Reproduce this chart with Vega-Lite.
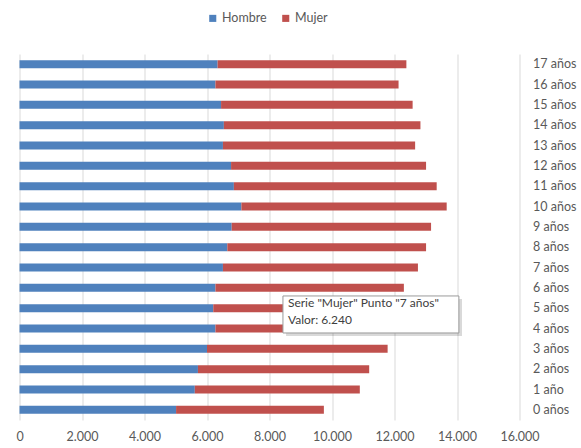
{
  "$schema": "https://vega.github.io/schema/vega-lite/v6.json",
  "width": 500,
  "height": 366,
  "autosize": {"type": "none"},
  "padding": {"left": 19.5, "top": 54, "right": 61.5, "bottom": 28},
  "background": "white",
  "config": {
    "view": {"stroke": null},
    "font": "Lato",
    "axis": {"labelColor": "#595959", "labelFontSize": 12.5, "labelFont": "Lato", "labelFlush": false},
    "legend": {"labelColor": "#595959", "labelFontSize": 12.5, "labelFont": "Lato"}
  },
  "resolve": {"scale": {"y": "independent"}},
  "layer": [
    {
      "data": {
        "values": [
          {"edad": 17, "etiqueta": "17 años", "sexo": "Hombre", "valor": 6340}, {"edad": 17, "etiqueta": "17 años", "sexo": "Mujer", "valor": 6040},
          {"edad": 16, "etiqueta": "16 años", "sexo": "Hombre", "valor": 6270}, {"edad": 16, "etiqueta": "16 años", "sexo": "Mujer", "valor": 5860},
          {"edad": 15, "etiqueta": "15 años", "sexo": "Hombre", "valor": 6450}, {"edad": 15, "etiqueta": "15 años", "sexo": "Mujer", "valor": 6130},
          {"edad": 14, "etiqueta": "14 años", "sexo": "Hombre", "valor": 6540}, {"edad": 14, "etiqueta": "14 años", "sexo": "Mujer", "valor": 6290},
          {"edad": 13, "etiqueta": "13 años", "sexo": "Hombre", "valor": 6510}, {"edad": 13, "etiqueta": "13 años", "sexo": "Mujer", "valor": 6150},
          {"edad": 12, "etiqueta": "12 años", "sexo": "Hombre", "valor": 6770}, {"edad": 12, "etiqueta": "12 años", "sexo": "Mujer", "valor": 6240},
          {"edad": 11, "etiqueta": "11 años", "sexo": "Hombre", "valor": 6860}, {"edad": 11, "etiqueta": "11 años", "sexo": "Mujer", "valor": 6490},
          {"edad": 10, "etiqueta": "10 años", "sexo": "Hombre", "valor": 7100}, {"edad": 10, "etiqueta": "10 años", "sexo": "Mujer", "valor": 6570},
          {"edad": 9, "etiqueta": "9 años", "sexo": "Hombre", "valor": 6790}, {"edad": 9, "etiqueta": "9 años", "sexo": "Mujer", "valor": 6380},
          {"edad": 8, "etiqueta": "8 años", "sexo": "Hombre", "valor": 6650}, {"edad": 8, "etiqueta": "8 años", "sexo": "Mujer", "valor": 6360},
          {"edad": 7, "etiqueta": "7 años", "sexo": "Hombre", "valor": 6510}, {"edad": 7, "etiqueta": "7 años", "sexo": "Mujer", "valor": 6240},
          {"edad": 6, "etiqueta": "6 años", "sexo": "Hombre", "valor": 6270}, {"edad": 6, "etiqueta": "6 años", "sexo": "Mujer", "valor": 6030},
          {"edad": 5, "etiqueta": "5 años", "sexo": "Hombre", "valor": 6200}, {"edad": 5, "etiqueta": "5 años", "sexo": "Mujer", "valor": 5900},
          {"edad": 4, "etiqueta": "4 años", "sexo": "Hombre", "valor": 6270}, {"edad": 4, "etiqueta": "4 años", "sexo": "Mujer", "valor": 5800},
          {"edad": 3, "etiqueta": "3 años", "sexo": "Hombre", "valor": 6000}, {"edad": 3, "etiqueta": "3 años", "sexo": "Mujer", "valor": 5780},
          {"edad": 2, "etiqueta": "2 años", "sexo": "Hombre", "valor": 5710}, {"edad": 2, "etiqueta": "2 años", "sexo": "Mujer", "valor": 5480},
          {"edad": 1, "etiqueta": "1 año", "sexo": "Hombre", "valor": 5610}, {"edad": 1, "etiqueta": "1 año", "sexo": "Mujer", "valor": 5280},
          {"edad": 0, "etiqueta": "0 años", "sexo": "Hombre", "valor": 5010}, {"edad": 0, "etiqueta": "0 años", "sexo": "Mujer", "valor": 4730}
        ]
      },
      "mark": {"type": "bar", "size": 8},
      "encoding": {
        "x": {
          "field": "valor", "type": "quantitative", "stack": "zero",
          "scale": {"domain": [0, 16000], "nice": false, "padding": 0},
          "axis": {
            "title": null, "values": [0, 2000, 4000, 6000, 8000, 10000, 12000, 14000, 16000],
            "labelExpr": "replace(format(datum.value, ','), ',', '.')",
            "domain": false, "ticks": false, "grid": true, "gridColor": "#d9d9d9", "labelPadding": 10,
            "labelFlush": false
          }
        },
        "y": {
          "field": "etiqueta", "type": "nominal",
          "sort": {"field": "edad", "order": "descending"},
          "scale": {"paddingInner": 0, "paddingOuter": 0},
          "axis": {
            "title": null, "orient": "right",
            "domain": false, "ticks": false, "grid": false, "labelPadding": 13, "labelAlign": "left",
            "labelOverlap": false, "labelBaseline": "middle"
          }
        },
        "color": {
          "field": "sexo", "type": "nominal",
          "scale": {"domain": ["Hombre", "Mujer"], "range": ["#4F81BD", "#C0504D"]},
          "legend": {
            "title": null, "orient": "none", "direction": "horizontal", "legendX": 187, "legendY": -42,
            "symbolType": "square", "symbolSize": 50, "columnPadding": 12, "labelOffset": 3
          }
        },
        "order": {"field": "sexo", "sort": "ascending"}
      }
    },
    {
      "data": {"values": [{"texto": ["Serie \"Mujer\" Punto \"7 años\"", "Valor: 6.240"]}]},
      "encoding": {
        "y": {"datum": 5.6, "type": "quantitative", "scale": {"domain": [-0.5, 17.5], "nice": false, "zero": false, "padding": 0}, "axis": null}
      },
      "layer": [
        {
          "mark": {"type": "rect", "fill": "#000000", "opacity": 0.15},
          "encoding": {
            "x": {"datum": 8530}, "x2": {"datum": 14160},
            "y": {"datum": 5.45, "type": "quantitative", "scale": {"domain": [-0.5, 17.5], "nice": false, "zero": false, "padding": 0}, "axis": null},
            "y2": {"datum": 3.63}
          }
        },
        {
          "mark": {"type": "rect", "fill": "white", "stroke": "#9a9a9a", "strokeWidth": 1},
          "encoding": {
            "x": {"datum": 8430}, "x2": {"datum": 14060},
            "y": {"datum": 5.6, "type": "quantitative", "scale": {"domain": [-0.5, 17.5], "nice": false, "zero": false, "padding": 0}, "axis": null},
            "y2": {"datum": 3.78}
          }
        },
        {
          "mark": {"type": "text", "align": "left", "baseline": "alphabetic", "fontSize": 12, "color": "#404040", "lineHeight": 17},
          "encoding": {
            "x": {"datum": 8590},
            "y": {"datum": 5.06, "type": "quantitative", "scale": {"domain": [-0.5, 17.5], "nice": false, "zero": false, "padding": 0}, "axis": null},
            "text": {"field": "texto"}
          }
        }
      ]
    }
  ]
}
